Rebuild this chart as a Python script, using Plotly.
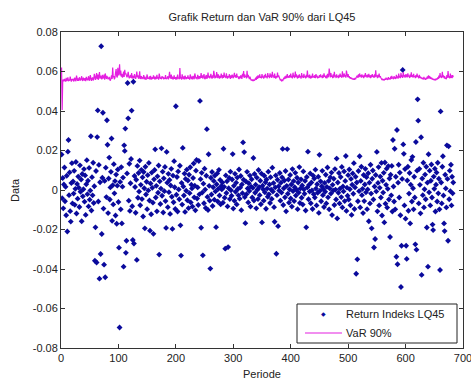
import plotly.graph_objects as go

# Daily return of LQ45 index (per-mille, i.e. value / 1000)
returns_pm = [
    18, -4.2, 6.1, -9.3, 2.8, 11.4, -5.7, 1.6, -12.8, 7.2, -21, 19.4, 25.3, -2.6, 8.9, -10.7, -16, 3.5, 13.6, -6.8,
    4.3, -1.8, 9.7, -7.5, 0.6, 14.2, -11.9, 3.1, -4.4, 6.8, 1.2, -8.6, 12.5, -0.9, 5.3, -15.8, 8.1, -3.2, 0.4, 10.6,
    -5.9, 7.4, -12.6, 2.9, 15.1, -2.1, 4.7, -8.3, 11.2, -4.9, -0.3, 27.2, -10.4, 6.5, -2.7, 13.8, -6.6, 1.9, -35.8, -18.9,
    9.6, -36.7, 26.8, 40.3, -5.8, 12.7, -44.9, 3.9, -32.4, 72.8, -22.3, 6.2, 39.1, -9.4, -37.8, 4.6, -44.2, 11.3, -3.6, 35.3,
    22.9, -11.7, 5.8, 16.4, -4.8, 1.3, 9.2, 26.1, -15.6, 2.4, -7.3, 13.1, -1.7, 4.5, -12.9, 7.8, -17.1, 2.2, 10.4, -6.1,
    -29.2, -69.6, 4.1, -9.8, 11.6, -16.9, 1.7, 6.3, -38.8, 22.6, 19.8, 31.1, -31.8, -25.7, 8.4, 54.2, 36.3, -5.4, 13.3, -10.6,
    3.4, 15.7, 40.2, -8.2, -25.3, 54.8, -27.1, 7.1, 1.5, -11.5, 5.2, -35.4, 12.2, -3.9, 8.6, -0.8, 14.9, -7.7, 2.6, 10.2,
    -4.6, 6.4, -13.4, 9.1, 0.9, -19.4, 11.8, -2.3, 4.2, -9.7, 7.5, -0.2, 13.7, -5.3, -20.6, 3.3, -12.3, 8.8, 1.1, -6.4,
    -22.2, 5.4, 10.1, 20.6, -3.8, 2.1, -10.8, 6.9, -1.4, 12.4, -32.7, 4.4, -7.1, 0.7, 21.1, -2.9, 9.3, -11.4, 5.9, -0.6,
    11.7, -5.6, -19.2, 19.3, 3.7, -8.7, 8.2, -1.1, 5.1, -12.1, 2.3, 10.7, -3.4, -19.7, 7.3, -6.2, 14.6, 1.4, -9.6, 42.4,
    -2.4, 6.6, -10.9, 9.4, 0.3, -4.7, 12.3, -17.9, -33.2, 3.6, -7.4, 21.3, 1.8, -2.8, 8.3, -11.1, 5.6, -0.4, 10.3, -5.2,
    4.8, -9.2, 7.7, -1.6, 11.5, -6.3, 2.7, 0.8, -8.4, 6.1, 13.4, -3.7, 2.2, -10.3, 9.8, 15.2, -4.3, 1.3, -7.6, 14.7,
    -2.2, 45.1, 5.5, -19.1, 8.7, -1.3, -33.1, 3.2, -6.7, 10.8, 0.2, -9.1, 7.2, 30.8, -3.5, -10.1, 18.1, 2.1, -5.4, -39.8,
    6.2, -2.3, 9.1, -8.1, 1.4, 4.6, -4.9, 7.3, -0.7, -18.8, 2.9, 8.4, -5.8, 0.6, 10.2, -2.8, 5.1, -7.2, 1.9, 0.3,
    3.8, -6.4, 20.9, 1.6, -3.9, -29.7, 7.4, -1.5, 4.4, -8.3, -28.9, 0.9, 6.1, -4.6, 9.3, -0.1, -2.9, 5.3, 18.2, -9.4,
    2.1, -5.5, 8.2, -0.9, 3.7, -7.3, 6.3, 0.5, -2.7, 10.4, -4.4, 1.2, 7.1, -10.2, 2.8, -1.6, 24.1, 5.2, 19.2, -3.6,
    -16.8, 4.3, -2.1, 9.2, 0.8, -6.3, 3.4, -0.5, 7.3, -8.4, 1.7, 5.4, -3.8, 1.1, 16.2, -5.3, 8.1, -1.4, 2.7, -9.3,
    6.3, 0.1, -4.6, 10.1, 1.4, -2.6, 4.7, -7.2, 8.3, -16.4, 2.2, 0.4, -5.4, 7.2, -1.2, 3.9, -9.5, 5.3, 0.7, -3.4,
    9.3, -2.2, 2.8, -6.6, 6.5, 0.2, -4.5, 11.3, -0.8, 3.5, -8.7, -16.1, 1.3, 7.4, -32.3, -2.6, 5.2, -18.3, 1.9, -0.3,
    8.6, -5.4, 3.7, -1.3, 6.4, 20.8, -7.6, 0.9, 4.8, -3.7, 9.6, -10.8, 2.1, 20.7, -1.9, 5.3, -6.4, 0.4, 7.6, -4.3,
    2.8, -8.4, 10.6, -0.6, 4.5, -5.6, 1.4, 8.7, -2.8, 0.1, 6.2, -9.7, 3.8, -1.3, 11.6, -6.6, 0.8, 5.4, -3.9, 2.3,
    -7.4, 9.4, 0.3, -1.9, 4.6, -10.4, -18.9, 6.6, 1.3, 19.4, -4.7, 2.6, -0.8, 8.4, -6.7, 3.8, -0.2, -9.6, 7.3, -2.1,
    5.8, -3.8, 10.3, 0.7, -7.8, 2.9, -1.4, 6.7, -11.6, 17.8, -0.4, 4.4, -5.7, 1.9, 9.7, -2.6, 0.5, -8.6, 3.6, -0.9,
    7.7, -6.8, 1.6, 11.4, -3.7, 4.6, -9.8, 0.8, 6.4, -1.8, 8.8, -12.7, 2.6, -0.3, 5.7, -7.6, 10.6, 0.2, -4.8, 15.9,
    -14.4, 3.8, -1.4, 8.6, -6.8, 0.7, 6.6, -3.6, 11.7, -8.8, 1.8, -0.7, 9.4, -5.6, 4.6, 17.2, -10.6, 1.2, -2.9, 7.5,
    -4.8, 10.4, 0.4, -7.7, 5.6, -12.6, 2.7, 8.4, -1.9, 13.6, -9.6, 1.3, 6.7, -42.4, 3.8, -35.1, -5.7, 9.6, -0.6, 17.1,
    -8.8, 4.6, 11.8, -2.6, 0.6, -11.7, 7.6, -5.6, 2.8, 10.7, -1.2, 6.5, -9.7, 0.3, 8.5, -15.8, 3.7, -6.8, 12.8, -1.8,
    -19.4, 5.7, 9.9, -4.8, -29.1, 1.8, -24.8, 7.6, -0.7, 19.3, -10.8, 3.6, 11.6, -7.8, 1.1, 6.8, -3.8, 13.7, -12.9, 4.7,
    -1.3, 8.7, -16.4, 13.9, -6.9, 2.6, 10.8, -8.9, 0.6, 12.1, -4.8, 5.8, -23.8, 7.7, -2.7, 12.2, -10.9, 25.3, 1.8, -5.8,
    20.9, -9.8, 6.7, -33.8, 30.4, -37.6, 3.7, 12.8, -3.8, 8.8, -12.8, -49.1, -28.2, 5.6, 60.8, 23.1, 18.3, -7.8, 10.6, -14.5,
    -28.2, -34.9, 4.8, 11.8, -10.5, -1.8, 8.6, -16.9, 2.7, 15.2, -5.8, 16.8, 0.9, -9.8, 6.7, -3.8, -27.5, 24.3, -30.2, 9.8,
    45.9, 35.1, -6.8, 10.7, 2.6, -11.8, 26.7, -43.0, 5.8, -2.6, 13.8, -8.8, 0.4, 7.8, -4.7, 11.8, -19.0, 3.7, -38.8, 18.1,
    -1.2, 9.8, -7.8, 4.7, 12.9, -3.8, -17.5, -20.3, 6.8, 0.6, 10.8, -10.9, 2.7, 8.8, -5.8, 13.8, -1.7, 5.7, -9.8, -40.5,
    39.8, 3.8, -6.8, 11.8, 17.1, -2.8, -16.9, -20.8, 7.7, 0.8, -8.8, 22.6, 5.6, -25.7, 22.1, -4.7, 9.8, -0.6, 12.8, -7.8,
    6.7, -1.7, 3.8,
]

# VaR 90% (per-mille)
var_pm = [
    62.0, 40.5, 55.2, 55.9, 55.0, 56.3, 55.4, 54.9, 56.8, 55.2, 55.7, 57.0, 55.1, 55.9, 55.3, 57.4, 55.2, 54.9, 56.2, 55.5,
    56.4, 55.0, 55.6, 56.9, 55.7, 55.1, 57.9, 55.9, 55.3, 56.5, 55.2, 57.1, 55.8, 55.4, 56.3, 57.6, 55.8, 55.2, 56.9, 56.0,
    55.4, 56.6, 55.1, 57.3, 55.9, 55.5, 56.2, 57.6, 55.3, 55.8, 58.2, 55.7, 55.2, 56.4, 57.0, 55.5, 56.1, 58.8, 56.6, 55.7,
    57.4, 59.2, 56.1, 58.5, 55.8, 57.0, 59.7, 56.4, 57.9, 57.1, 56.0, 58.3, 56.5, 56.8, 58.4, 55.9, 59.0, 56.7, 56.2, 57.8,
    57.0, 56.1, 56.5, 57.3, 55.8, 55.4, 56.6, 58.0, 56.2, 62.0, 57.1, 57.7, 56.0, 56.9, 59.4, 61.2, 57.6, 57.0, 61.9, 58.1,
    59.4, 63.6, 58.0, 60.5, 57.4, 58.8, 56.9, 57.7, 60.0, 57.2, 60.8, 58.6, 59.1, 57.8, 57.1, 58.2, 59.8, 57.3, 56.5, 57.4,
    58.2, 56.8, 59.2, 56.4, 57.9, 57.0, 56.5, 58.7, 57.2, 56.3, 57.5, 60.0, 57.1, 58.0, 56.4, 56.9, 60.1, 56.2, 56.8, 57.7,
    56.1, 57.2, 56.5, 58.2, 56.0, 57.4, 56.3, 55.8, 57.0, 58.5, 56.2, 56.9, 56.4, 57.5, 55.9, 57.8, 56.5, 56.0, 57.1, 56.3,
    58.0, 56.6, 56.1, 57.4, 56.2, 56.5, 58.3, 56.4, 57.2, 55.9, 58.9, 56.7, 56.3, 57.0, 56.1, 57.7, 56.5, 57.3, 56.0, 56.8,
    56.4, 58.2, 56.1, 56.9, 56.5, 57.6, 56.0, 57.2, 59.9, 57.1, 56.4, 58.5, 56.2, 57.4, 56.0, 56.7, 58.0, 56.3, 57.1, 55.9,
    57.3, 56.0, 58.4, 56.5, 56.9, 56.1, 61.8, 56.4, 57.2, 55.9, 58.6, 56.8, 56.2, 57.5, 56.0, 57.9, 56.6, 56.1, 57.2, 56.4,
    58.1, 56.3, 57.0, 55.9, 58.5, 56.6, 56.2, 57.4, 56.0, 57.8, 56.7, 56.1, 59.0, 56.9, 56.4, 57.2, 56.0, 58.3, 56.6, 56.2,
    57.6, 56.5, 57.1, 59.2, 56.8, 58.0, 56.4, 57.3, 58.7, 56.6, 56.1, 57.5, 58.2, 56.3, 57.0, 59.4, 56.9, 57.8, 56.5, 57.4,
    58.8, 57.1, 56.4, 58.1, 56.7, 60.3, 57.2, 56.5, 57.9, 56.8, 59.7, 57.4, 56.6, 58.5, 57.0, 56.4, 57.8, 56.7, 58.9, 57.1,
    56.5, 58.2, 56.8, 59.5, 57.2, 57.9, 56.6, 59.1, 57.3, 56.4, 57.7, 56.9, 58.6, 57.1, 56.3, 58.0, 56.7, 58.4, 57.0, 56.6,
    57.9, 59.3, 57.1, 58.2, 56.8, 59.0, 57.2, 57.7, 56.6, 56.2, 57.5, 56.5, 58.1, 56.9, 56.3, 58.8, 57.4, 60.2, 56.7, 58.6,
    57.2, 57.8, 56.5, 60.4, 57.0, 58.3, 56.6, 56.1, 57.4, 55.9, 55.5, 56.0, 55.3, 55.7, 55.2, 55.8, 55.4, 56.1, 56.9, 55.8,
    57.5, 56.3, 58.0, 56.7, 57.2, 58.5, 56.8, 57.4, 56.5, 58.7, 57.0, 57.5, 56.4, 58.2, 56.9, 58.8, 57.1, 57.7, 56.5, 59.2,
    57.3, 57.9, 56.6, 59.1, 57.2, 58.4, 56.8, 59.8, 57.4, 58.1, 56.7, 58.9, 57.1, 56.4, 57.6, 56.9, 59.4, 57.2, 58.0, 56.7,
    56.1, 55.5, 55.9, 55.3, 55.7, 55.2, 56.0, 56.8, 56.2, 57.5, 56.4, 57.9, 56.6, 58.7, 57.0, 57.6, 56.8, 58.2, 57.1, 59.0,
    56.9, 57.8, 56.5, 59.4, 57.2, 58.1, 56.7, 60.0, 57.3, 58.5, 56.9, 56.5, 58.0, 56.8, 58.6, 57.1, 57.7, 56.4, 59.2, 57.0,
    57.9, 56.7, 58.8, 57.2, 57.6, 56.5, 58.3, 56.9, 60.5, 57.4, 58.0, 56.6, 58.4, 57.0, 56.5, 57.8, 56.7, 58.9, 57.2, 57.6,
    56.8, 58.2, 56.6, 58.7, 57.1, 57.9, 56.5, 57.4, 56.8, 58.1, 57.0, 58.6, 57.2, 57.8, 56.6, 58.3, 56.9, 59.1, 57.4, 57.7,
    56.7, 58.0, 56.5, 58.8, 57.1, 57.6, 61.5, 58.4, 57.0, 59.2, 57.3, 57.9, 56.6, 58.5, 56.9, 59.8, 57.4, 58.1, 56.7, 58.6,
    57.2, 57.8, 56.6, 58.3, 57.0, 58.9, 57.4, 58.0, 56.8, 60.1, 57.7, 57.1, 59.0, 57.5, 58.2, 56.9, 60.5, 57.8, 57.2, 58.7,
    57.0, 57.6, 56.5, 57.1, 56.3, 56.8, 56.0, 56.5, 55.9, 56.4, 55.8, 56.7, 56.1, 57.0, 57.4, 57.9, 56.8, 58.5, 57.2, 59.0,
    57.4, 58.1, 56.9, 58.6, 57.2, 57.9, 56.7, 58.3, 57.1, 59.2, 57.5, 57.8, 56.9, 58.4, 57.2, 58.8, 57.0, 58.0, 56.6, 58.2,
    57.0, 58.7, 57.3, 57.9, 56.8, 58.5, 57.1, 60.6, 57.5, 58.0, 56.7, 58.3, 57.0, 58.9, 57.2, 57.6, 56.8, 56.2, 55.7, 56.4,
    55.6, 56.1, 55.5, 56.3, 55.8, 56.9, 56.0, 56.5, 55.7, 57.2, 56.1, 56.6, 55.9, 57.4, 56.2, 57.8, 56.5, 57.0, 56.1, 57.6,
    56.4, 57.1, 56.2, 58.3, 56.7, 57.5, 56.4, 58.9, 57.0, 57.8, 56.6, 59.3, 57.2, 58.0, 56.8, 59.7, 57.4, 58.1, 56.9, 58.6,
    57.2, 58.5, 57.0, 59.1, 57.5, 57.9, 56.7, 58.4, 57.1, 59.6, 57.3, 58.2, 56.9, 58.8, 57.4, 57.7, 56.6, 58.2, 57.0, 59.0,
    57.2, 57.8, 56.5, 58.3, 56.9, 57.4, 56.4, 57.0, 56.2, 56.7, 56.0, 57.3, 56.1, 56.5, 55.8, 56.9, 56.2, 57.5, 56.4, 58.0,
    56.6, 57.6, 56.3, 57.1, 56.1, 56.8, 55.9, 56.4, 55.7, 56.2, 55.5, 56.0, 55.6, 56.5, 55.9, 57.0, 56.2, 57.9, 56.6, 59.2,
    57.1, 57.8, 56.7, 59.9, 57.2, 58.1, 56.6, 57.6, 56.3, 56.9, 56.1, 58.2, 56.8, 60.2, 57.0, 57.7, 56.5, 58.9, 56.8, 58.0,
    56.6, 58.2, 57.1,
]

x_ticks = [0, 100, 200, 300, 400, 500, 600, 700]
y_ticks = [-0.08, -0.06, -0.04, -0.02, 0, 0.02, 0.04, 0.06, 0.08]
y_tick_labels = ["-0.08", "-0.06", "-0.04", "-0.02", "0", "0.02", "0.04", "0.06", "0.08"]

series_names = ["Return Indeks LQ45", "VaR 90%"]
title_text = "Grafik Return dan VaR 90% dari LQ45"
x_title = "Periode"
y_title = "Data"

period_r = list(range(1, len(returns_pm) + 1))
period_v = list(range(1, len(var_pm) + 1))
ret = [v / 1000 for v in returns_pm]
var = [v / 1000 for v in var_pm]

FONT = "Liberation Sans, Arial, Helvetica, sans-serif"
TXT = "#222222"
MARKER_COLOR = "#0a0a9c"
LINE_COLOR = "#e41ee0"

# plot area in pixels (for converting the legend box layout to paper units)
PL, PR, PT, PB = 61, 463, 32, 348
def px(xp):
    return (xp - PL) / (PR - PL)
def py(yp):
    return (PB - yp) / (PB - PT)

fig = go.Figure()
fig.add_trace(go.Scatter(
    x=period_r, y=ret, mode="markers", name=series_names[0],
    marker=dict(symbol="diamond", size=4.5, color=MARKER_COLOR, line=dict(width=0)),
))
fig.add_trace(go.Scatter(
    x=period_v, y=var, mode="lines", name=series_names[1],
    line=dict(color=LINE_COLOR, width=1.2),
))

axis_common = dict(
    showgrid=False, zeroline=False, showline=True, linecolor="#333333", linewidth=1,
    mirror="ticks", ticks="inside", ticklen=4, tickcolor="#333333", automargin=False,
    ticklabeloverflow="allow",
    tickfont=dict(family=FONT, size=11, color=TXT),
)

# legend drawn as a compact MATLAB-style box
legend_shapes = [
    dict(type="rect", xref="paper", yref="paper", x0=px(297), x1=px(457), y0=py(343), y1=py(304),
         line=dict(color="#222222", width=1), fillcolor="white", layer="above"),
    dict(type="line", xref="paper", yref="paper", x0=px(305), x1=px(342), y0=py(333), y1=py(333),
         line=dict(color=LINE_COLOR, width=1.2), layer="above"),
]
legend_annotations = [
    dict(text="\u25c6", xref="paper", yref="paper", x=px(323), y=py(314), xanchor="center",
         yanchor="middle", showarrow=False, font=dict(size=6, color=MARKER_COLOR)),
    dict(text=series_names[0], xref="paper", yref="paper", x=px(344), y=py(314), xanchor="left",
         yanchor="middle", showarrow=False, font=dict(family=FONT, size=11, color=TXT)),
    dict(text=series_names[1], xref="paper", yref="paper", x=px(344), y=py(333), xanchor="left",
         yanchor="middle", showarrow=False, font=dict(family=FONT, size=11, color=TXT)),
]

fig.update_layout(
    width=471, height=380,
    margin=dict(l=PL, r=471 - PR, t=PT, b=380 - PB, autoexpand=False),
    paper_bgcolor="white", plot_bgcolor="white",
    font=dict(family=FONT, size=11, color=TXT),
    title=dict(text=title_text, x=0.5, xref="paper", xanchor="center",
               y=1 - 17 / 380, yanchor="middle",
               font=dict(family=FONT, size=11, color=TXT)),
    xaxis=dict(range=[0, 700], tickvals=x_ticks, ticktext=[str(t) for t in x_ticks],
               **axis_common),
    yaxis=dict(range=[-0.08, 0.08], tickvals=y_ticks, ticktext=y_tick_labels,
               **axis_common),
    showlegend=False,
    shapes=legend_shapes,
    annotations=legend_annotations + [
        dict(text=x_title, xref="paper", yref="paper", x=0.5, y=-26 / 316,
             xanchor="center", yanchor="middle", showarrow=False,
             font=dict(family=FONT, size=11, color=TXT)),
        dict(text=y_title, xref="paper", yref="paper", x=-46 / 402, y=0.5,
             xanchor="center", yanchor="middle", textangle=-90, showarrow=False,
             font=dict(family=FONT, size=11, color=TXT)),
    ],
)

fig.write_html(
    "out.html",
    config={"displayModeBar": False},
    post_script="document.body.style.margin='0';document.body.style.overflow='hidden';",
)
